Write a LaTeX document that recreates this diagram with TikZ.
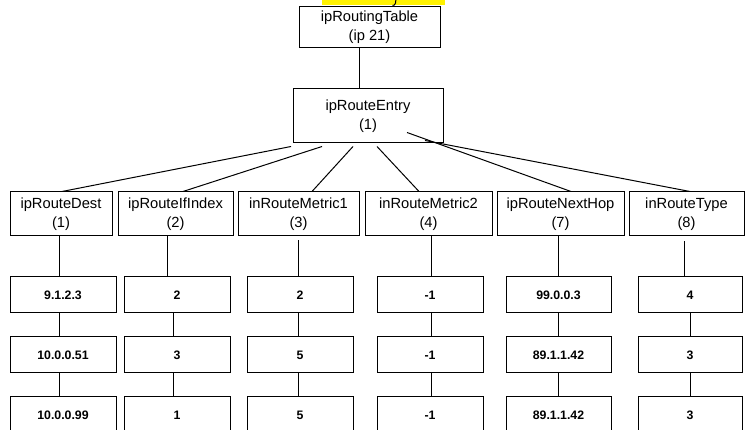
\documentclass[tikz,border=0pt]{standalone}
\usepackage{fontspec}
\setmainfont{Liberation Sans}
\begin{document}
\begin{tikzpicture}[x=1pt,y=-1pt,
  hbox/.style={draw, line width=1pt, rectangle, inner sep=0pt, align=center,
    font=\fontsize{14.7}{18.5}\selectfont},
  vbox/.style={draw, line width=1pt, rectangle, inner sep=0pt, minimum height=36pt,
    font=\bfseries\fontsize{12.3}{15}\selectfont},
  conn/.style={line width=1pt}]
\useasboundingbox (0,0) rectangle (745,430);
% cut-off highlighted label at the top
\fill[yellow] (322,-2) rectangle (445,5);
\draw[line width=1pt] (396,-1) -- (395.5,3) .. controls (395,5) and (394,5.5) .. (392.5,5.5);

% top nodes
\node[hbox, minimum width=141pt, minimum height=41pt] (rt) at (369.5,27) {ipRoutingTable\\(ip 21)};
\node[hbox, minimum width=150pt, minimum height=54pt] (re) at (368,116) {ipRouteEntry\\(1)};
\coordinate (xt) at (359,0);
\draw[conn] (rt.south -| xt) -- (re.north -| xt);

% column headers
\node[hbox, minimum width=102pt, minimum height=44pt] (h1) at (61,214)    {ipRouteDest\\(1)};
\node[hbox, minimum width=115pt, minimum height=44pt] (h2) at (175.5,214) {ipRouteIfIndex\\(2)};
\node[hbox, minimum width=121pt, minimum height=44pt] (h3) at (298.5,214) {inRouteMetric1\\(3)};
\node[hbox, minimum width=127pt, minimum height=44pt] (h4) at (428.5,214) {inRouteMetric2\\(4)};
\node[hbox, minimum width=127pt, minimum height=44pt] (h5) at (560.5,214) {ipRouteNextHop\\(7)};
\node[hbox, minimum width=115pt, minimum height=44pt] (h6) at (686.5,214) {inRouteType\\(8)};

% connectors from the entry to the headers
\draw[conn] ([xshift=-77pt,yshift=-3pt]re.south) -- ([xshift=1pt]h1.north);
\draw[conn] ([xshift=-46pt,yshift=-3pt]re.south) -- ([xshift=7.5pt]h2.north);
\draw[conn] ([xshift=-15pt,yshift=-3pt]re.south) -- ([xshift=13.5pt]h3.north);
\draw[conn] ([xshift=9pt,yshift=-3pt]re.south) -- ([xshift=-9.5pt]h4.north);
\draw[conn] ([xshift=39pt,yshift=11pt]re.south) -- ([xshift=10.5pt]h5.north);
\draw[conn] ([xshift=57pt,yshift=3pt]re.south) -- ([xshift=3.5pt]h6.north);

% value rows
\foreach \n/\cx/\w/\a/\b/\c in {
  1/63/106/9.1.2.3/10.0.0.51/10.0.0.99,
  2/177/106/2/3/1,
  3/300/106/2/5/5,
  4/430/106/-1/-1/-1,
  5/558.5/105/99.0.0.3/89.1.1.42/89.1.1.42,
  6/690/104/4/3/3}{
  \node[vbox, minimum width=\w pt] (a\n) at (\cx,295) {\a};
  \node[vbox, minimum width=\w pt] (b\n) at (\cx,355) {\b};
  \node[vbox, minimum width=\w pt] (c\n) at (\cx,415) {\c};
}

% vertical connectors
\coordinate (u1) at (59,0);  \coordinate (v1) at (59,0);
\coordinate (u2) at (167,0); \coordinate (v2) at (173,0);
\coordinate (u3) at (298,0); \coordinate (v3) at (298,0);
\coordinate (u4) at (431,0); \coordinate (v4) at (431,0);
\coordinate (u5) at (558,0); \coordinate (v5) at (558,0);
\coordinate (u6) at (684,0); \coordinate (v6) at (690,0);

\draw[conn] (h1.south -| u1) -- (a1.north -| u1);
\draw[conn] (h2.south -| u2) -- (a2.north -| u2);
\draw[conn] ([yshift=-4pt]h3.south -| u3) -- (a3.north -| u3);
\draw[conn] (h4.south -| u4) -- (a4.north -| u4);
\draw[conn] (h5.south -| u5) -- (a5.north -| u5);
\draw[conn] ([yshift=-5pt]h6.south -| u6) -- (a6.north -| u6);

\foreach \n in {1,...,6}{
  \draw[conn] (a\n.south -| v\n) -- (b\n.north -| v\n);
  \draw[conn] (b\n.south -| v\n) -- (c\n.north -| v\n);
}
\end{tikzpicture}
\end{document}
